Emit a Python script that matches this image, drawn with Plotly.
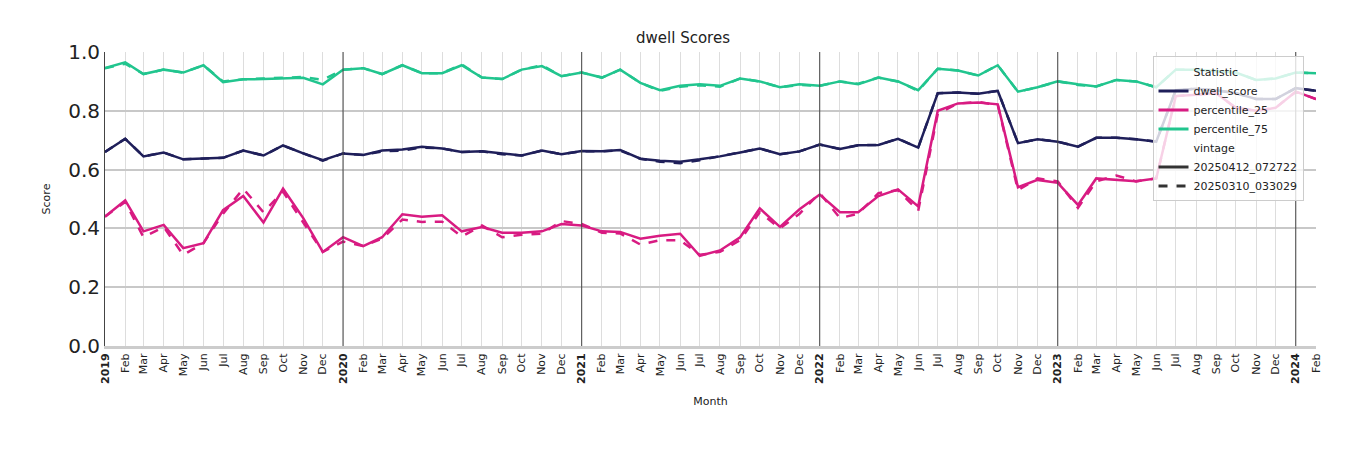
import pandas as pd
import plotly.graph_objects as go

months = pd.date_range("2019-01-01", "2024-02-01", freq="MS")

dwell_new = [.66, .705, .645, .658, .635, .638, .64, .665, .648, .682, .655, .632,
             .655, .65, .665, .668, .678, .672, .66, .662, .655, .648, .665, .652,
             .663, .662, .667, .637, .63, .627, .635, .645, .658, .672, .652, .662,
             .685, .67, .683, .684, .705, .675, .86, .862, .858, .868, .69, .703,
             .695, .678, .708, .708, .703, .695, .87, .875, .87, .86, .84, .84,
             .877, .868]
dwell_old = [.66, .705, .645, .658, .635, .638, .64, .665, .648, .682, .655, .63,
             .655, .65, .662, .665, .675, .672, .66, .662, .652, .648, .665, .652,
             .663, .662, .665, .637, .627, .622, .632, .645, .658, .672, .652, .662,
             .685, .67, .683, .684, .705, .675, .86, .862, .858, .868, .69, .703,
             .695, .678, .708, .708, .703, .695, .87, .875, .87, .86, .84, .84,
             .877, .868]
p25_new = [.44, .495, .39, .412, .333, .35, .462, .51, .42, .535, .435, .32,
           .37, .34, .37, .448, .44, .445, .39, .405, .385, .385, .39, .415,
           .41, .39, .388, .365, .375, .382, .307, .325, .37, .468, .405, .465,
           .515, .455, .455, .51, .533, .475, .80, .825, .828, .822, .54, .565,
           .555, .48, .57, .565, .56, .57, .85, .855, .86, .81, .80, .81,
           .865, .84]
p25_old = [.44, .49, .37, .405, .31, .35, .45, .535, .455, .525, .42, .32,
           .355, .34, .365, .43, .422, .423, .372, .41, .37, .378, .382, .425,
           .415, .385, .383, .345, .36, .36, .31, .32, .36, .455, .40, .45,
           .52, .435, .45, .52, .53, .46, .79, .825, .83, .82, .53, .57,
           .56, .47, .56, .58, .56, .57, .85, .855, .86, .81, .80, .81,
           .865, .84]
p75_new = [.945, .965, .925, .94, .93, .955, .897, .907, .908, .91, .912, .89,
           .94, .945, .925, .955, .928, .928, .955, .913, .908, .94, .952, .918,
           .93, .913, .94, .895, .87, .885, .89, .885, .91, .90, .88, .89,
           .885, .90, .89, .913, .90, .87, .943, .937, .92, .955, .865, .88,
           .90, .89, .883, .905, .90, .88, .94, .94, .935, .93, .905, .91,
           .93, .928]
p75_old = [.945, .96, .925, .94, .93, .955, .9, .907, .91, .912, .915, .905,
           .94, .945, .925, .955, .928, .928, .958, .913, .908, .94, .955, .918,
           .93, .913, .94, .895, .868, .882, .887, .882, .91, .90, .88, .888,
           .885, .90, .892, .913, .90, .868, .943, .937, .92, .955, .865, .88,
           .90, .888, .883, .905, .90, .88, .94, .94, .935, .93, .905, .91,
           .93, .928]

colors = {"dwell_score": "#1f1f5a", "percentile_25": "#d81b82", "percentile_75": "#21c58e"}
series = [("dwell_score", dwell_new, dwell_old),
          ("percentile_25", p25_new, p25_old),
          ("percentile_75", p75_new, p75_old)]

fig = go.Figure()
for name, new, old in series:
    fig.add_scatter(x=months, y=old, mode="lines", showlegend=False,
                    line=dict(color=colors[name], width=2.5, dash="dash"))
    fig.add_scatter(x=months, y=new, mode="lines", showlegend=False,
                    line=dict(color=colors[name], width=2.5))

# legend entries (grouped headers like seaborn)
def leg(name, color="rgba(0,0,0,0)", dash="solid"):
    fig.add_scatter(x=[None], y=[None], mode="lines", name=name,
                    line=dict(color=color, width=3, dash=dash))

leg("Statistic")
for name, _, _ in series:
    leg(name, colors[name])
leg("vintage")
leg("20250412_072722", "#333333")
leg("20250310_033029", "#333333", "dash")

abbr = ["Jan", "Feb", "Mar", "Apr", "May", "Jun", "Jul", "Aug", "Sep", "Oct", "Nov", "Dec"]
ticktext = [f"<b>{d.year}</b>" if d.month == 1 else abbr[d.month - 1] for d in months]

for d in months:
    if d.month == 1 and d.year > 2019:
        fig.add_vline(x=d, line=dict(color="#444444", width=1))

fig.update_layout(
    width=1350, height=450,
    margin=dict(l=97, r=42, t=44, b=112),
    paper_bgcolor="white", plot_bgcolor="white",
    font=dict(family="DejaVu Sans", color="#222222"),
    title=dict(text="dwell Scores", x=0.5, y=0.945, xanchor="center", font=dict(size=15)),
    legend=dict(x=0.865, y=0.985, xanchor="left", yanchor="top",
                bgcolor="rgba(255,255,255,0.8)", bordercolor="#cccccc", borderwidth=1,
                font=dict(size=11), tracegroupgap=0),
    xaxis=dict(tickvals=months, ticktext=ticktext, tickangle=-90, tickfont=dict(size=11),
               showgrid=True, gridcolor="#dddddd", range=[months[0], months[-1]],
               title=dict(text="Month", font=dict(size=11)), showline=True,
               linecolor="#cccccc", linewidth=3, zeroline=False, automargin=False),
    yaxis=dict(range=[0, 1], dtick=0.2, tickformat=".1f", tickfont=dict(size=20),
               showgrid=True, gridcolor="#c8c8c8", gridwidth=2,
               title=dict(text="Score", font=dict(size=11)), zeroline=False,
               showline=True, linecolor="#444444", linewidth=1, automargin=False),
)

fig.write_html("out.html")
